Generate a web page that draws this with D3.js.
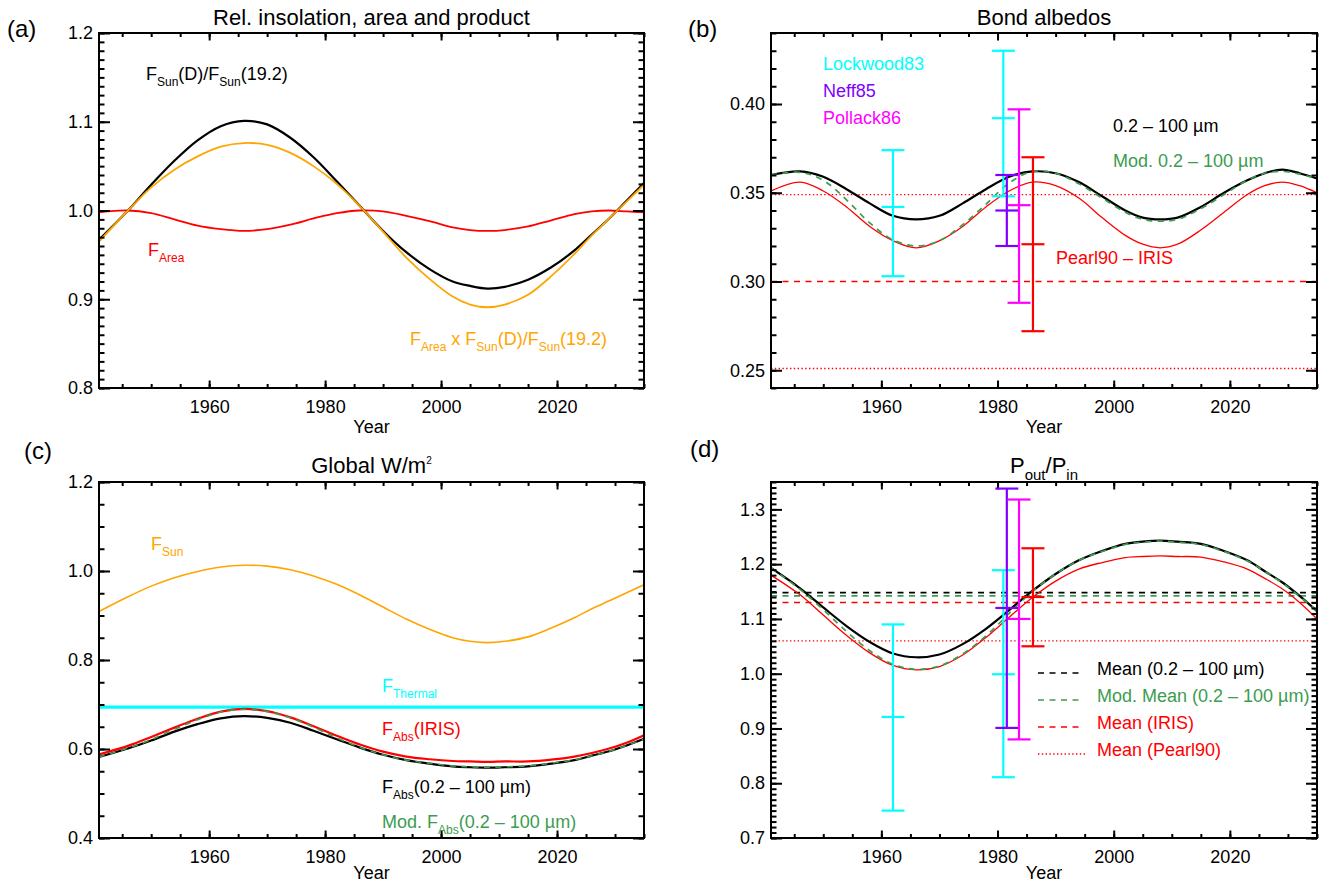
<!DOCTYPE html>
<html>
<head>
<meta charset="utf-8">
<script src="https://cdn.jsdelivr.net/npm/d3@7"></script>
<style>
  body { margin: 0; background: #fff; }
  svg { display: block; font-family: "Liberation Sans", Arial, Helvetica, sans-serif; }
</style>
</head>
<body>
<svg id="chart" width="1327" height="883"></svg>
<script>
// ---- data ----
var years = [1941, 1946, 1950, 1954, 1958, 1962, 1966, 1970, 1974, 1978, 1982, 1986, 1990,
             1994, 1998, 2002, 2005, 2008, 2011, 2015, 2019, 2023, 2026, 2029, 2032, 2035];

// (a) relative insolation, area and product
var fSunRel  = [0.967, 1.000, 1.029, 1.056, 1.079, 1.095, 1.101, 1.097, 1.082, 1.060, 1.033, 1.005, 0.977,
                0.953, 0.934, 0.920, 0.915, 0.912, 0.914, 0.922, 0.936, 0.955, 0.973, 0.991, 1.011, 1.031];
var fArea    = [0.998, 1.000, 0.997, 0.990, 0.983, 0.979, 0.977, 0.979, 0.984, 0.991, 0.997, 1.000, 0.999,
                0.994, 0.988, 0.981, 0.978, 0.977, 0.978, 0.982, 0.989, 0.996, 0.999, 1.000, 0.999, 0.998];
var fProduct = [0.965, 1.000, 1.026, 1.046, 1.061, 1.072, 1.076, 1.074, 1.065, 1.050, 1.030, 1.005, 0.976,
                0.947, 0.923, 0.903, 0.894, 0.891, 0.894, 0.905, 0.926, 0.951, 0.972, 0.991, 1.010, 1.029];

// (b) bond albedos
var albedo     = [0.360, 0.362, 0.359, 0.352, 0.344, 0.337, 0.335, 0.337, 0.344, 0.352, 0.359, 0.362, 0.361,
                  0.356, 0.348, 0.340, 0.336, 0.335, 0.336, 0.342, 0.350, 0.357, 0.361, 0.363, 0.361, 0.358];
var albedoIris = [0.351, 0.356, 0.351, 0.342, 0.331, 0.323, 0.319, 0.323, 0.331, 0.342, 0.351, 0.356, 0.354,
                  0.347, 0.336, 0.326, 0.321, 0.319, 0.321, 0.329, 0.339, 0.349, 0.354, 0.356, 0.354, 0.350];
var albedoMod  = [0.360, 0.3615, 0.357, 0.346, 0.333, 0.3235, 0.320, 0.323, 0.332, 0.3435, 0.3555, 0.362, 0.361,
                  0.355, 0.347, 0.339, 0.335, 0.334, 0.335, 0.341, 0.349, 0.357, 0.361, 0.362, 0.3605, 0.358];
var pearlLevels = [0.300, 0.349, 0.251];   // dashed, dotted, dotted

// (c) global W/m2
var fSun     = [0.909, 0.942, 0.966, 0.985, 0.999, 1.009, 1.013, 1.011, 1.003, 0.989, 0.970, 0.946, 0.919,
                0.892, 0.869, 0.850, 0.842, 0.839, 0.842, 0.852, 0.872, 0.895, 0.915, 0.933, 0.951, 0.969];
var fThermal = 0.694;
var fAbsIris = [0.588, 0.607, 0.627, 0.648, 0.668, 0.684, 0.690, 0.685, 0.671, 0.651, 0.630, 0.610, 0.594,
                0.583, 0.577, 0.573, 0.572, 0.571, 0.572, 0.572, 0.576, 0.583, 0.591, 0.601, 0.614, 0.631];
var fAbs     = [0.582, 0.601, 0.619, 0.639, 0.656, 0.669, 0.674, 0.670, 0.659, 0.641, 0.622, 0.603, 0.587,
                0.575, 0.567, 0.561, 0.559, 0.558, 0.559, 0.561, 0.567, 0.575, 0.585, 0.595, 0.608, 0.623];
var fAbsMod  = [0.582, 0.602, 0.621, 0.644, 0.666, 0.683, 0.689, 0.684, 0.670, 0.649, 0.625, 0.604, 0.587,
                0.575, 0.568, 0.562, 0.560, 0.559, 0.560, 0.562, 0.568, 0.576, 0.585, 0.595, 0.608, 0.622];

// (d) P_out / P_in
var pRatio     = [1.193, 1.156, 1.121, 1.087, 1.058, 1.037, 1.030, 1.035, 1.054, 1.082, 1.116, 1.151, 1.182,
                  1.207, 1.224, 1.237, 1.241, 1.243, 1.241, 1.237, 1.224, 1.207, 1.187, 1.167, 1.142, 1.114];
var pRatioIris = [1.180, 1.144, 1.107, 1.070, 1.038, 1.015, 1.007, 1.013, 1.034, 1.066, 1.103, 1.139, 1.169,
                  1.191, 1.203, 1.212, 1.214, 1.215, 1.214, 1.213, 1.204, 1.191, 1.174, 1.155, 1.130, 1.100];
var pRatioMod  = [1.193, 1.154, 1.117, 1.077, 1.042, 1.017, 1.008, 1.014, 1.036, 1.069, 1.110, 1.150, 1.182,
                  1.207, 1.223, 1.236, 1.240, 1.242, 1.240, 1.236, 1.223, 1.206, 1.187, 1.166, 1.141, 1.115];
var meanLevels = [1.148, 1.142, 1.130, 1.060];

// error bars: Lockwood83 (x2), Neff85, Pollack86, Pearl90
var obsYears  = [1962, 1981.0, 1981.6, 1983.7, 1986.1];
var obsColors = ["#00ffff", "#00ffff", "#8000ff", "#ff00ff", "#ff0000"];
var albLow  = [0.303, 0.348, 0.320, 0.288, 0.272];
var albMid  = [0.342, 0.392, 0.340, 0.343, 0.321];
var albHigh = [0.374, 0.430, 0.360, 0.397, 0.370];
var pLow  = [0.750, 0.811, 0.901, 0.880, 1.050];
var pMid  = [0.921, 0.999, 1.120, 1.100, 1.140];
var pHigh = [1.090, 1.189, 1.338, 1.318, 1.229];

// ticks
var xDomain = [1941, 2035];
var xMajor = [1960, 1980, 2000, 2020];
var yMajorA = [0.8, 0.9, 1.0, 1.1, 1.2];
var yMajorB = [0.25, 0.30, 0.35, 0.40];
var yMajorC = [0.4, 0.6, 0.8, 1.0, 1.2];
var yMajorD = [0.7, 0.8, 0.9, 1.0, 1.1, 1.2, 1.3];

var BLACK = "#000000", RED = "#ff0000", ORANGE = "#ffa500", CYAN = "#00ffff",
    GREEN = "#3c9c50", PURPLE = "#8000ff", MAGENTA = "#ff00ff";

var svg = d3.select("#chart");
var defs = svg.append("defs");

function minorRange(lo, hi, step) {
  var out = [];
  for (var v = lo; v <= hi + step * 0.01; v += step) out.push(+v.toFixed(4));
  return out;
}

function addAxis(g, gen, tx, ty, size, values, fmt) {
  var a = g.append("g").attr("transform", "translate(" + tx + "," + ty + ")")
    .call(gen.tickValues(values).tickSize(size).tickSizeOuter(0)
      .tickFormat(fmt || function() { return ""; }));
  a.attr("font-family", null).attr("font-size", 18);
  a.select(".domain").remove();
  a.selectAll(".tick line").attr("stroke-width", 2);
  return a;
}

function makePanel(p) {
  var x = d3.scaleLinear().domain(xDomain).range([p.left, p.right]);
  var y = d3.scaleLinear().domain(p.yDomain).range([p.bottom, p.top]);
  var g = svg.append("g");
  defs.append("clipPath").attr("id", "clip-" + p.id)
    .append("rect").attr("x", p.left).attr("y", p.top)
    .attr("width", p.right - p.left).attr("height", p.bottom - p.top);
  var plot = g.append("g").attr("clip-path", "url(#clip-" + p.id + ")");
  var ax = g.append("g");

  var xMinor = minorRange(1945, 2035, 5);
  var yMinor = minorRange(p.yDomain[0], p.yDomain[1], p.yMinor);

  addAxis(ax, d3.axisBottom(x).tickPadding(12), 0, p.bottom, -7.5, xMajor, d3.format("d"));
  addAxis(ax, d3.axisBottom(x), 0, p.bottom, -4, xMinor);
  addAxis(ax, d3.axisTop(x), 0, p.top, -7.5, xMajor);
  addAxis(ax, d3.axisTop(x), 0, p.top, -4, xMinor);
  addAxis(ax, d3.axisLeft(y).tickPadding(6), p.left, 0, -11, p.yMajor, d3.format(p.yFormat));
  addAxis(ax, d3.axisLeft(y), p.left, 0, -5.5, yMinor);
  addAxis(ax, d3.axisRight(y), p.right, 0, -11, p.yMajor);
  addAxis(ax, d3.axisRight(y), p.right, 0, -5.5, yMinor);

  ax.append("rect").attr("x", p.left).attr("y", p.top)
    .attr("width", p.right - p.left).attr("height", p.bottom - p.top)
    .attr("fill", "none").attr("stroke", BLACK).attr("stroke-width", 2);

  g.append("text").attr("x", (p.left + p.right) / 2).attr("y", p.yearY)
    .attr("text-anchor", "middle").attr("font-size", 18).text("Year");
  richText(g, (p.left + p.right) / 2, p.titleY, p.title, BLACK, 22, "middle");
  g.append("text").attr("x", p.labelX).attr("y", p.labelY).attr("font-size", 24).text(p.label);

  return { x: x, y: y, g: g, plot: plot, left: p.left, right: p.right };
}

// parts: [text, 0 normal | 1 subscript | 2 superscript]
function richText(g, x, y, parts, color, size, anchor) {
  var t = g.append("text").attr("x", x).attr("y", y).attr("fill", color)
    .attr("font-size", size).attr("text-anchor", anchor || "start");
  var cur = 0;
  parts.forEach(function(p) {
    var off = p[1] === 1 ? size * 0.32 : (p[1] === 2 ? -size * 0.42 : 0);
    var fs = p[1] === 1 ? Math.round(size * 0.68) : (p[1] === 2 ? Math.round(size * 0.45) : size);
    t.append("tspan").attr("dy", off - cur).attr("font-size", fs).text(p[0]);
    cur = off;
  });
  return t;
}

function addLine(P, values, color, width, dash) {
  var line = d3.line()
    .x(function(d, i) { return P.x(years[i]); })
    .y(function(d) { return P.y(d); })
    .curve(d3.curveCatmullRom);
  P.plot.append("path").datum(values).attr("d", line)
    .attr("fill", "none").attr("stroke", color).attr("stroke-width", width)
    .attr("stroke-dasharray", dash || null);
}

function addLevel(P, v, color, width, dash) {
  P.plot.append("line")
    .attr("x1", P.x(xDomain[0])).attr("x2", P.x(xDomain[1]))
    .attr("y1", P.y(v)).attr("y2", P.y(v))
    .attr("stroke", color).attr("stroke-width", width).attr("stroke-dasharray", dash || null);
}

function addErrorBars(P, lo, mid, hi) {
  var cap = 11.5;
  var bars = P.g.selectAll(null).data(obsYears).enter().append("g")
    .attr("stroke", function(d, i) { return obsColors[i]; }).attr("stroke-width", 2.2);
  bars.append("line")
    .attr("x1", function(d) { return P.x(d); }).attr("x2", function(d) { return P.x(d); })
    .attr("y1", function(d, i) { return P.y(lo[i]); }).attr("y2", function(d, i) { return P.y(hi[i]); });
  [lo, mid, hi].forEach(function(arr) {
    bars.append("line")
      .attr("x1", function(d) { return P.x(d) - cap; }).attr("x2", function(d) { return P.x(d) + cap; })
      .attr("y1", function(d, i) { return P.y(arr[i]); }).attr("y2", function(d, i) { return P.y(arr[i]); });
  });
}

var DASH = "6,5.5", DOT = "1.4,2.4";

// ---- (a) ----
var A = makePanel({ id: "a", left: 99, right: 644, top: 33, bottom: 388, yearY: 433,
  yDomain: [0.8, 1.2], yMajor: yMajorA, yMinor: 0.01, yFormat: ".1f",
  title: [["Rel. insolation, area and product", 0]], titleY: 25, label: "(a)", labelX: 7, labelY: 37 });
addLine(A, fArea, RED, 1.8);
addLine(A, fSunRel, BLACK, 2.2);
addLine(A, fProduct, ORANGE, 1.8);
richText(A.g, 146, 80, [["F", 0], ["Sun", 1], ["(D)/F", 0], ["Sun", 1], ["(19.2)", 0]], BLACK, 18);
richText(A.g, 148, 256, [["F", 0], ["Area", 1]], RED, 18);
richText(A.g, 410, 345, [["F", 0], ["Area", 1], [" x F", 0], ["Sun", 1], ["(D)/F", 0], ["Sun", 1], ["(19.2)", 0]], ORANGE, 18);

// ---- (b) ----
var B = makePanel({ id: "b", left: 771, right: 1317, top: 33, bottom: 388, yearY: 433,
  yDomain: [0.24, 0.44], yMajor: yMajorB, yMinor: 0.01, yFormat: ".2f",
  title: [["Bond albedos", 0]], titleY: 25, label: "(b)", labelX: 688, labelY: 37 });
addLevel(B, pearlLevels[0], RED, 1.6, DASH);
addLevel(B, pearlLevels[1], RED, 1.3, DOT);
addLevel(B, pearlLevels[2], RED, 1.3, DOT);
addLine(B, albedoIris, RED, 1.3);
addLine(B, albedo, BLACK, 2.2);
addLine(B, albedoMod, GREEN, 1.7, DASH);
addErrorBars(B, albLow, albMid, albHigh);
richText(B.g, 823, 70, [["Lockwood83", 0]], CYAN, 18);
richText(B.g, 823, 97, [["Neff85", 0]], PURPLE, 18);
richText(B.g, 823, 124, [["Pollack86", 0]], MAGENTA, 18);
richText(B.g, 1113, 132, [["0.2 \u2013 100 \u00b5m", 0]], BLACK, 18);
richText(B.g, 1113, 167, [["Mod. 0.2 \u2013 100 \u00b5m", 0]], GREEN, 18);
richText(B.g, 1056, 264, [["Pearl90 \u2013 IRIS", 0]], RED, 18);

// ---- (c) ----
var C = makePanel({ id: "c", left: 99, right: 644, top: 482, bottom: 838, yearY: 879,
  yDomain: [0.4, 1.2], yMajor: yMajorC, yMinor: 0.05, yFormat: ".1f",
  title: [["Global W/m", 0], ["2", 2]], titleY: 473, label: "(c)", labelX: 24, labelY: 459 });
addLine(C, fSun, ORANGE, 1.6);
addLevel(C, fThermal, CYAN, 3.4);
addLine(C, fAbs, BLACK, 2.2);
addLine(C, fAbsIris, RED, 2.2);
addLine(C, fAbsMod, GREEN, 1.6, DASH);
richText(C.g, 151, 550, [["F", 0], ["Sun", 1]], ORANGE, 18);
richText(C.g, 382, 692, [["F", 0], ["Thermal", 1]], CYAN, 18);
richText(C.g, 382, 735, [["F", 0], ["Abs", 1], ["(IRIS)", 0]], RED, 18);
richText(C.g, 382, 793, [["F", 0], ["Abs", 1], ["(0.2 \u2013 100 \u00b5m)", 0]], BLACK, 18);
richText(C.g, 382, 828, [["Mod. F", 0], ["Abs", 1], ["(0.2 \u2013 100 \u00b5m)", 0]], GREEN, 18);

// ---- (d) ----
var D = makePanel({ id: "d", left: 771, right: 1317, top: 482, bottom: 838, yearY: 879,
  yDomain: [0.7, 1.35], yMajor: yMajorD, yMinor: 0.01, yFormat: ".1f",
  title: [["P", 0], ["out", 1], ["/P", 0], ["in", 1]], titleY: 473, label: "(d)", labelX: 690, labelY: 457 });
addLevel(D, meanLevels[0], BLACK, 1.6, DASH);
addLevel(D, meanLevels[1], GREEN, 1.6, DASH);
addLevel(D, meanLevels[2], RED, 1.6, DASH);
addLevel(D, meanLevels[3], RED, 1.3, DOT);
addLine(D, pRatioIris, RED, 1.3);
addLine(D, pRatio, BLACK, 2.2);
addLine(D, pRatioMod, GREEN, 1.7, DASH);
addErrorBars(D, pLow, pMid, pHigh);

var legendItems = [
  { text: "Mean (0.2 \u2013 100 \u00b5m)", color: BLACK, dash: DASH, w: 1.6 },
  { text: "Mod. Mean (0.2 \u2013 100 \u00b5m)", color: GREEN, dash: DASH, w: 1.6 },
  { text: "Mean (IRIS)", color: RED, dash: DASH, w: 1.6 },
  { text: "Mean (Pearl90)", color: RED, dash: DOT, w: 1.3 }
];
var leg = D.g.append("g");
legendItems.forEach(function(it, i) {
  var by = 675 + i * 27;
  leg.append("line").attr("x1", 1038).attr("x2", i === 3 ? 1085 : 1081)
    .attr("y1", by - 2).attr("y2", by - 2)
    .attr("stroke", it.color).attr("stroke-width", it.w).attr("stroke-dasharray", it.dash);
  richText(leg, 1097, by, [[it.text, 0]], it.color, 18);
});
</script>
</body>
</html>
